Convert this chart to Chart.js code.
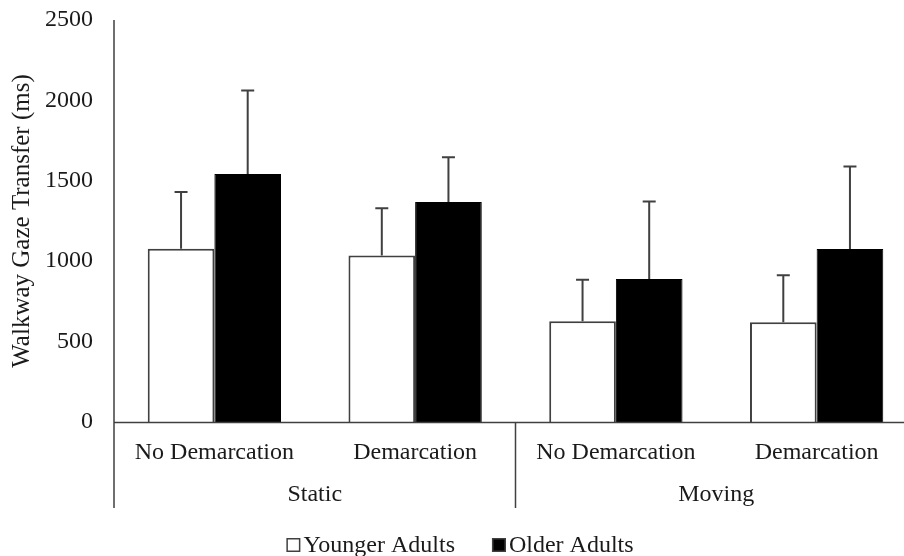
<!DOCTYPE html>
<html>
<head>
<meta charset="utf-8">
<script src="https://cdn.jsdelivr.net/npm/chart.js@4.4.1/dist/chart.umd.min.js"></script>
<style>
  html, body { margin: 0; padding: 0; background: #fff; overflow: hidden; width: 904px; height: 556px; }
  #wrap { position: relative; width: 920px; height: 556px; }
</style>
</head>
<body>
<div id="wrap"><canvas id="chart" width="920" height="556"></canvas></div>
<script>
// Walkway gaze transfer (ms), mean and SD per condition and age group
const conditions   = ['No Demarcation', 'Demarcation', 'No Demarcation', 'Demarcation'];
const groups       = ['Static', 'Moving'];
const youngerMeans = [1078, 1036, 626, 620];
const olderMeans   = [1542, 1368, 889, 1076];
const youngerSD    = [352, 294, 259, 292];
const olderSD      = [519, 279, 482, 513];
const yTicks       = [0, 500, 1000, 1500, 2000, 2500];
const seriesNames  = ['Younger Adults', 'Older Adults'];

const FONT = '"Liberation Serif", "Times New Roman", serif';
const TEXT = '#1a1a1a';
const LINE = '#404040';

// Upward-only error bars with caps
const errorBars = {
  id: 'errorBars',
  afterDatasetsDraw(chart) {
    const ctx = chart.ctx, y = chart.scales.y;
    ctx.save();
    ctx.strokeStyle = LINE;
    ctx.lineWidth = 2;
    chart.data.datasets.forEach((ds, i) => {
      chart.getDatasetMeta(i).data.forEach((bar, j) => {
        const top = y.getPixelForValue(ds.data[j] + ds.sd[j]);
        ctx.beginPath();
        ctx.moveTo(bar.x, bar.y);
        ctx.lineTo(bar.x, top);
        ctx.moveTo(bar.x - 6.5, top);
        ctx.lineTo(bar.x + 6.5, top);
        ctx.stroke();
      });
    });
    ctx.restore();
  }
};

// Axis lines, two-level category labels, group separators and legend
const frame = {
  id: 'frame',
  afterDraw(chart) {
    const ctx = chart.ctx, a = chart.chartArea, x = chart.scales.x;
    const bottomTick = 508;
    ctx.save();
    ctx.strokeStyle = LINE;
    ctx.lineWidth = 1.5;
    ctx.beginPath();
    ctx.moveTo(a.left, a.top);
    ctx.lineTo(a.left, bottomTick);
    ctx.moveTo(a.left, a.bottom + 0.5);
    ctx.lineTo(a.right, a.bottom + 0.5);
    // separator between groups and at the right end
    [1.5, 3.5].forEach(v => {
      const px = x.getPixelForValue(v);
      ctx.moveTo(px, a.bottom);
      ctx.lineTo(px, bottomTick);
    });
    ctx.stroke();

    ctx.fillStyle = TEXT;
    ctx.font = '24px ' + FONT;
    ctx.textAlign = 'center';
    ctx.textBaseline = 'alphabetic';
    conditions.forEach((c, i) => ctx.fillText(c, x.getPixelForValue(i), 459));
    groups.forEach((g, k) => {
      const l = x.getPixelForValue(2 * k - 0.5);
      const r = x.getPixelForValue(2 * k + 1.5);
      ctx.fillText(g, (l + r) / 2, 501);
    });

    // legend
    const box = 14, gapText = 3, gapItem = 37;
    ctx.textAlign = 'left';
    const widths = seriesNames.map(n => box + gapText + ctx.measureText(n).width);
    const total = widths.reduce((s, w) => s + w, 0) + gapItem * (seriesNames.length - 1);
    let cx = chart.width / 2 - total / 2;
    const boxTop = 538, baseline = 552;
    chart.data.datasets.forEach((ds, i) => {
      ctx.fillStyle = ds.backgroundColor;
      ctx.fillRect(cx, boxTop, box, box);
      ctx.strokeStyle = LINE;
      ctx.lineWidth = 1.5;
      ctx.strokeRect(cx + 0.75, boxTop + 0.75, box - 1.5, box - 1.5);
      ctx.fillStyle = TEXT;
      ctx.fillText(seriesNames[i], cx + box + gapText, baseline);
      cx += widths[i] + gapItem;
    });
    ctx.restore();
  }
};

new Chart(document.getElementById('chart'), {
  type: 'bar',
  data: {
    labels: conditions,
    datasets: [
      {
        label: seriesNames[0],
        data: youngerMeans,
        sd: youngerSD,
        backgroundColor: '#ffffff',
        borderColor: LINE,
        borderWidth: 2
      },
      {
        label: seriesNames[1],
        data: olderMeans,
        sd: olderSD,
        backgroundColor: '#000000',
        borderColor: '#000000',
        borderWidth: 1
      }
    ]
  },
  options: {
    responsive: false,
    animation: false,
    devicePixelRatio: 1,
    layout: { padding: { top: 20, right: 3, bottom: 134, left: 0 } },
    datasets: { bar: { categoryPercentage: 0.664, barPercentage: 1.0 } },
    plugins: {
      legend: { display: false },
      tooltip: { enabled: false }
    },
    scales: {
      x: {
        grid: { display: false, drawTicks: false },
        border: { display: false },
        ticks: { display: false },
        afterFit(s) { s.height = 0; s.paddingLeft = 0; s.paddingRight = 0; }
      },
      y: {
        min: 0,
        max: 2500,
        afterBuildTicks(s) { s.ticks = yTicks.map(v => ({ value: v })); },
        grid: { display: false, drawTicks: false },
        border: { display: false },
        ticks: {
          padding: 21,
          color: TEXT,
          font: { family: FONT, size: 24 },
          callback: v => String(v)
        },
        title: {
          display: true,
          text: 'Walkway Gaze Transfer (ms)',
          color: TEXT,
          font: { family: FONT, size: 25 },
          padding: { top: 7, bottom: 0 }
        },
        afterFit(s) { s.width = 114; s.paddingTop = 0; s.paddingBottom = 0; }
      }
    }
  },
  plugins: [errorBars, frame]
});
</script>
</body>
</html>
